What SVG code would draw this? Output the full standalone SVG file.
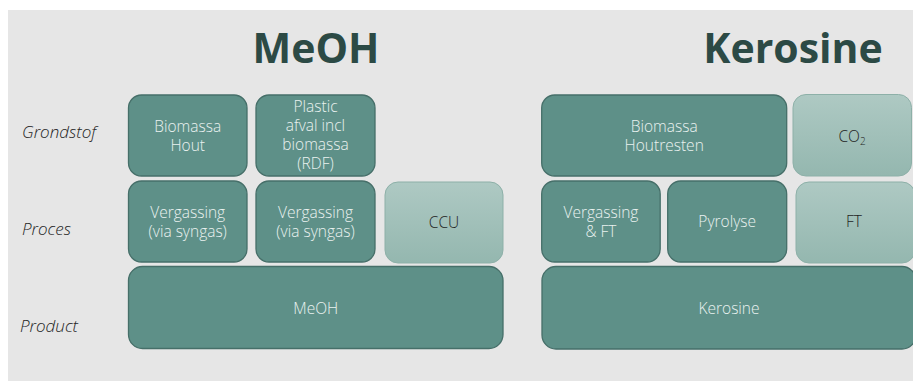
<svg xmlns="http://www.w3.org/2000/svg" width="913" height="381" viewBox="0 0 913 381">
<defs>
<linearGradient id="lg" x1="0" y1="0" x2="0" y2="1">
<stop offset="0" stop-color="#aec9c3"/>
<stop offset="1" stop-color="#94b7af"/>
</linearGradient>
</defs>
<style>
.dark{fill:#5e9088;stroke:#466f69;stroke-width:1.3}
.light{fill:url(#lg);stroke:#8db0a8;stroke-width:1}
.t{font-family:"Open Sans","Liberation Sans",sans-serif;font-weight:300;font-size:15.5px;fill:#eaf2f0;text-anchor:middle}
.tl{font-family:"Open Sans","Liberation Sans",sans-serif;font-weight:300;font-size:15.5px;fill:#1f1f1f;text-anchor:middle}
.row{font-family:"Open Sans","Liberation Sans",sans-serif;font-style:italic;font-weight:300;font-size:17px;fill:#1f1f1f}
.title{font-family:"Open Sans","Liberation Sans",sans-serif;font-weight:700;font-size:41px;fill:#2c4a45;text-anchor:middle}
</style>
<rect x="8" y="10" width="905" height="371" fill="#e6e6e6"/>
<g id="titles">
<text class="title" x="316" y="63">MeOH</text>
<text class="title" x="793" y="63">Kerosine</text>
</g>
<g id="row-labels">
<text class="row" x="22" y="138">Grondstof</text>
<text class="row" x="22" y="235">Proces</text>
<text class="row" x="20" y="332">Product</text>
</g>
<g id="biomassa-hout">
<rect class="dark" x="128.5" y="95" width="118.5" height="81" rx="13"/>
<text class="t" x="187.7" y="131.5">Biomassa</text>
<text class="t" x="187.7" y="150.5">Hout</text>
</g>
<g id="plastic-afval">
<rect class="dark" x="256" y="95" width="119" height="81" rx="13"/>
<text class="t" x="315.5" y="111.5">Plastic</text>
<text class="t" x="315.5" y="130.5">afval incl</text>
<text class="t" x="315.5" y="149.5">biomassa</text>
<text class="t" x="315.5" y="168.5">(RDF)</text>
</g>
<g id="vergassing-1">
<rect class="dark" x="128.5" y="181" width="118.5" height="81" rx="13"/>
<text class="t" x="187.7" y="218">Vergassing</text>
<text class="t" x="187.7" y="236.5">(via syngas)</text>
</g>
<g id="vergassing-2">
<rect class="dark" x="256" y="181" width="119" height="81" rx="13"/>
<text class="t" x="315.5" y="218">Vergassing</text>
<text class="t" x="315.5" y="236.5">(via syngas)</text>
</g>
<g id="ccu">
<rect class="light" x="385" y="182" width="118" height="81" rx="13"/>
<text class="tl" x="444" y="227.5">CCU</text>
</g>
<g id="meoh">
<rect class="dark" x="128.5" y="266.5" width="374.5" height="82" rx="14"/>
<text class="t" x="315.7" y="313.5">MeOH</text>
</g>
<g id="biomassa-houtresten">
<rect class="dark" x="541.7" y="95" width="245" height="81" rx="13"/>
<text class="t" x="664.2" y="131.5">Biomassa</text>
<text class="t" x="664.2" y="150.5">Houtresten</text>
</g>
<g id="co2">
<rect class="light" x="793" y="94.5" width="118.5" height="81.5" rx="13"/>
<text class="tl" x="852" y="141.5">CO<tspan font-size="10" dy="3">2</tspan></text>
</g>
<g id="vergassing-ft">
<rect class="dark" x="541.7" y="181" width="118.5" height="81" rx="13"/>
<text class="t" x="600.9" y="218">Vergassing</text>
<text class="t" x="600.9" y="236.5">&amp; FT</text>
</g>
<g id="pyrolyse">
<rect class="dark" x="667.7" y="181" width="119" height="81" rx="13"/>
<text class="t" x="727.2" y="226.5">Pyrolyse</text>
</g>
<g id="ft">
<rect class="light" x="796" y="182" width="119" height="81" rx="13"/>
<text class="tl" x="854" y="227">FT</text>
</g>
<g id="kerosine">
<rect class="dark" x="542" y="266.5" width="374" height="82.5" rx="14"/>
<text class="t" x="729" y="313.5">Kerosine</text>
</g>
<g id="connectors"></g>
</svg>
